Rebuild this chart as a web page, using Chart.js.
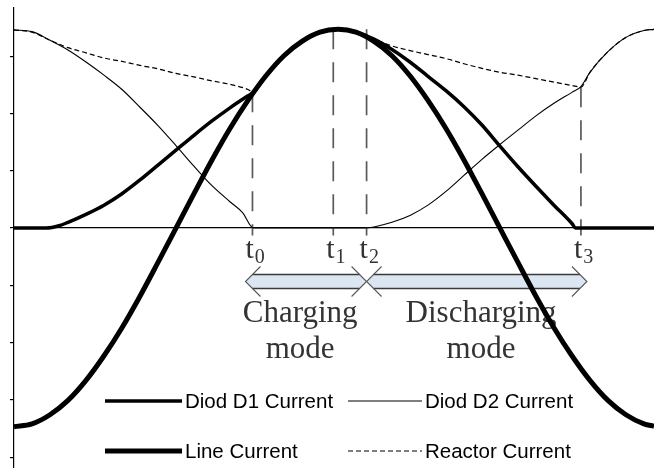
<!DOCTYPE html>
<html>
<head>
<meta charset="utf-8">
<script src="https://cdn.jsdelivr.net/npm/chart.js@4/dist/chart.umd.min.js"></script>
<style>
html,body{margin:0;padding:0;background:#fff;}
#wrap{width:654px;height:468px;}
</style>
</head>
<body>
<div id="wrap"><canvas id="c" width="654" height="468"></canvas></div>
<script>
// ---- data (x = phase angle in degrees, y = current in axis units) ----
const lineAngle = [0,10,20,30,40,50,60,70,80,90,100,110,120,130,140,150,160,170,180,190,200,210,220,230,240,250,260,270,280,290,300,310,320,330,340,350,355.6];
const lineCurrent = [-3.47,-3.42,-3.26,-3.01,-2.66,-2.23,-1.74,-1.19,-0.60,0,0.60,1.19,1.74,2.23,2.66,3.01,3.26,3.42,3.47,3.42,3.26,3.01,2.66,2.23,1.74,1.19,0.60,0,-0.60,-1.19,-1.74,-2.23,-2.66,-3.01,-3.26,-3.42,-3.46];

const d1Angle = [0,10,18,25,30,40,50,60,70,80,90,100,110,120,130,133,140,150,160,170,180,190,200,210,220,230,240,250,260,270,280,290,300,310,312,320,340,355.6];
const d1Current = [0,0,0,0.04,0.1,0.24,0.4,0.6,0.84,1.1,1.36,1.62,1.87,2.1,2.31,2.37,2.66,3.01,3.26,3.42,3.47,3.42,3.3,3.12,2.9,2.65,2.4,2.12,1.8,1.43,1.07,0.73,0.4,0.08,0,0,0,0];

const d2Angle = [0,10,20,30,40,50,60,70,80,90,100,110,120,127,133,160,195,200,210,220,230,240,250,260,270,280,290,300,310,315,320,330,340,350,355.6];
const d2Current = [3.46,3.43,3.28,3.11,2.9,2.67,2.42,2.11,1.79,1.44,1.08,0.74,0.46,0.27,0,0,0,0.02,0.1,0.22,0.4,0.64,0.92,1.2,1.46,1.71,1.96,2.18,2.37,2.47,2.72,3.08,3.33,3.45,3.47];

const reactorAngle = [0,10,20,30,40,50,60,70,80,90,100,110,120,130,133,140,150,160,170,180,190,195,200,210,220,230,240,250,260,270,280,290,300,310,315,320,330,340,350,355.6];
const reactorCurrent = [3.46,3.42,3.28,3.15,3.06,2.97,2.91,2.84,2.78,2.7,2.64,2.57,2.51,2.42,2.37,2.66,3.01,3.26,3.42,3.47,3.42,3.35,3.3,3.18,3.1,3.03,2.96,2.87,2.79,2.72,2.67,2.61,2.55,2.49,2.46,2.72,3.08,3.33,3.45,3.47];

const tAngles = [132.5, 177.4, 195.9, 315];
const tTops = [2.37, 3.47, 3.47, 2.46];
const tBottom = -0.13;
const tSubs = ['0','1','2','3'];

const modeLines1 = ['Charging','Discharging'];
const modeLines2 = ['mode','mode'];
const modeCenters = [159, 259.5];

const seriesLabels = ['Diod D1 Current','Diod D2 Current','Line Current','Reactor Current'];

const yTicksMin = -4.19, yTicksMax = 3.843;
const xMin = 0, xMax = 355.6;

// ---- build datasets ----
const pts = (xs, ys) => xs.map((v,i)=>({x:v, y:ys[i]}));
const base = {pointRadius:0, fill:false, cubicInterpolationMode:'monotone', borderColor:'#000', clip:6};
const datasets = [
  Object.assign({}, base, {label:seriesLabels[0], data:pts(d1Angle,d1Current), borderWidth:3.5, order:2, legendSlot:[0,0]}),
  Object.assign({}, base, {label:seriesLabels[1], data:pts(d2Angle,d2Current), borderWidth:1.1, order:4, legendSlot:[1,0]}),
  Object.assign({}, base, {label:seriesLabels[2], data:pts(lineAngle,lineCurrent), borderWidth:5, order:1, legendSlot:[0,1]}),
  Object.assign({}, base, {label:seriesLabels[3], data:pts(reactorAngle,reactorCurrent), borderWidth:1.2, borderDash:[5,3], order:3, legendSlot:[1,1]})
];
tAngles.forEach((a,i)=>{
  datasets.push({label:'t'+tSubs[i], data:[{x:a,y:tTops[i]},{x:a,y:tBottom}], borderColor:'#5a5a5a', borderWidth:1.7, borderDash:[20,13], pointRadius:0, order:10, isMarker:true});
});

// ---- annotation plugin (arrows, labels, legend) ----
const annot = {
  id:'annot',
  beforeDatasetsDraw(chart){
    const {ctx, scales:{x}} = chart;
    const px = tAngles.map(a=>x.getPixelForValue(a));
    const yc = 281.5, h = 7, arm = 15;
    const arrows = [[px[0]-7, px[2]], [px[2], px[3]+6]];
    ctx.save();
    arrows.forEach(([x1,x2])=>{
      ctx.beginPath();
      ctx.moveTo(x1,yc); ctx.lineTo(x1+h,yc-h); ctx.lineTo(x2-h,yc-h); ctx.lineTo(x2,yc); ctx.lineTo(x2-h,yc+h); ctx.lineTo(x1+h,yc+h); ctx.closePath();
      ctx.fillStyle='#dce6f2'; ctx.fill();
      ctx.strokeStyle='#3a3a3a'; ctx.lineWidth=1.5;
      ctx.beginPath(); ctx.moveTo(x1+h,yc-h); ctx.lineTo(x2-h,yc-h); ctx.moveTo(x1+h,yc+h); ctx.lineTo(x2-h,yc+h); ctx.stroke();
      ctx.strokeStyle='#555'; ctx.lineWidth=1.1;
      ctx.beginPath();
      ctx.moveTo(x1+arm,yc-arm); ctx.lineTo(x1,yc); ctx.lineTo(x1+arm,yc+arm);
      ctx.moveTo(x2-arm,yc-arm); ctx.lineTo(x2,yc); ctx.lineTo(x2-arm,yc+arm);
      ctx.stroke();
    });
    ctx.fillStyle='#333';
    ctx.font='31px "Liberation Serif"';
    ctx.textAlign='center'; ctx.textBaseline='alphabetic';
    modeCenters.forEach((a,i)=>{
      const cx = x.getPixelForValue(a);
      ctx.fillText(modeLines1[i], cx, 322);
      ctx.fillText(modeLines2[i], cx, 358);
    });
    tAngles.forEach((a,i)=>{
      const p = x.getPixelForValue(a) - 7;
      ctx.textAlign='left';
      ctx.font='30px "Liberation Serif"';
      ctx.fillText('t', p, 258);
      const w = ctx.measureText('t').width;
      ctx.font='20px "Liberation Serif"';
      ctx.fillText(tSubs[i], p+w+1, 263);
    });
    ctx.restore();
  },
  afterDatasetsDraw(chart){
    const {ctx} = chart;
    const colX = [105, 348], sampleLen = [77, 74], rowY = [401, 451];
    ctx.save();
    chart.data.datasets.forEach(ds=>{
      if(!ds.legendSlot) return;
      const [c,r] = ds.legendSlot;
      const x0 = colX[c], y0 = rowY[r];
      ctx.strokeStyle = ds.borderColor; ctx.lineWidth = ds.borderWidth;
      ctx.setLineDash(ds.borderDash || []);
      ctx.beginPath(); ctx.moveTo(x0,y0); ctx.lineTo(x0+sampleLen[c],y0); ctx.stroke();
      ctx.setLineDash([]);
      ctx.fillStyle='#000';
      ctx.font='20.5px "Liberation Sans"';
      ctx.textAlign='left'; ctx.textBaseline='middle';
      ctx.fillText(ds.label, x0+sampleLen[c]+3, y0+1);
    });
    ctx.restore();
  }
};

new Chart(document.getElementById('c'), {
  type:'line',
  data:{datasets},
  options:{
    responsive:false, animation:false, devicePixelRatio:1,
    layout:{padding:{left:10, top:8, right:0, bottom:0}},
    plugins:{legend:{display:false}, tooltip:{enabled:false}},
    scales:{
      x:{type:'linear', min:xMin, max:xMax, display:false},
      y:{type:'linear', min:yTicksMin, max:yTicksMax,
         ticks:{stepSize:1, display:false, includeBounds:false},
         grid:{drawOnChartArea:true, drawTicks:true, tickLength:4, tickColor:'#000', tickWidth:1.2,
               color:(c)=> (c.tick && c.tick.value===0) ? '#000' : 'rgba(0,0,0,0)', lineWidth:1.2},
         border:{display:true, color:'#000', width:1.2}}
    }
  },
  plugins:[annot]
});
</script>
</body>
</html>
